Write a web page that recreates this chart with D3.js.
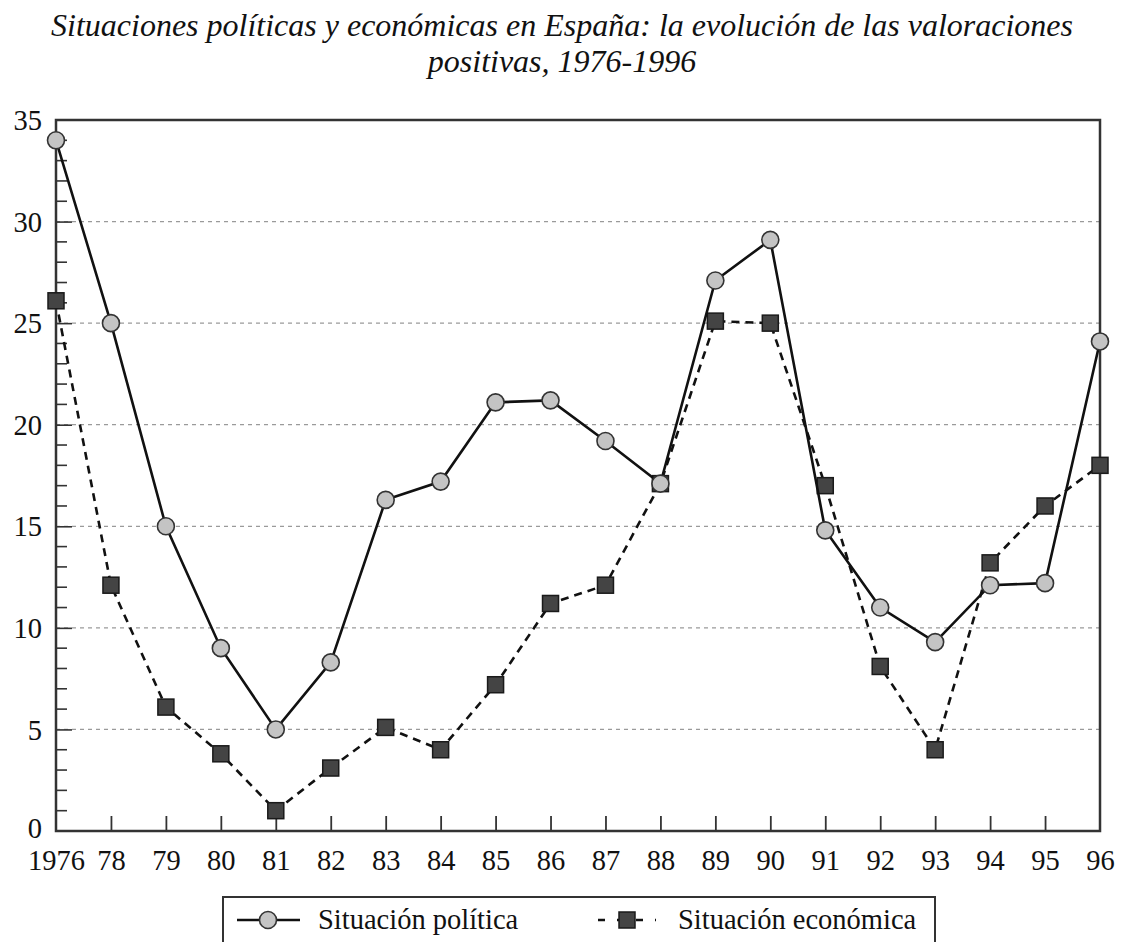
<!DOCTYPE html>
<html>
<head>
    <style>
        body { margin: 0; background: #fff; }
        text { font-family: "Liberation Serif", "DejaVu Serif", serif; fill: #111; }
        .title { font-style: italic; font-size: 32px; text-anchor: middle; }
        .tick text { font-size: 28.5px; }
        .legend text { font-size: 28.5px; }
    </style>
    <script src="https://d3js.org/d3.v7.min.js"></script>
</head>
<body>
    <svg width="1124" height="942"></svg>
    <script>

    var years = ["1976", "78", "79", "80", "81", "82", "83", "84", "85", "86",
                 "87", "88", "89", "90", "91", "92", "93", "94", "95", "96"];
    var politica = [34, 25, 15, 9, 5, 8.3, 16.3, 17.2, 21.1, 21.2,
                    19.2, 17.1, 27.1, 29.1, 14.8, 11, 9.3, 12.1, 12.2, 24.1];
    var economica = [26.1, 12.1, 6.1, 3.8, 1, 3.1, 5.1, 4, 7.2, 11.2,
                     12.1, 17.1, 25.1, 25, 17, 8.1, 4, 13.2, 16, 18];
    var yTicks = [0, 5, 10, 15, 20, 25, 30, 35];
    var seriesNames = ["Situación política", "Situación económica"];

    function lineChart() {
        var svg = d3.select("svg");
        var left = 56, right = 1100, top = 120, bottom = 831;

        var x = d3.scalePoint().domain(years).range([left, right]);
        var y = d3.scaleLinear().domain([0, 35]).range([bottom, top]);

        // title
        svg.append("text").attr("class", "title")
           .attr("x", 562).attr("y", 36)
           .text("Situaciones políticas y económicas en España: la evolución de las valoraciones");
        svg.append("text").attr("class", "title")
           .attr("x", 562).attr("y", 72)
           .text("positivas, 1976-1996");

        // grid
        svg.append("g").selectAll("line")
           .data(yTicks.filter(function(d) { return d > 0 && d < 35; }))
           .enter().append("line")
           .attr("x1", left).attr("x2", right)
           .attr("y1", function(d) { return y(d); })
           .attr("y2", function(d) { return y(d); })
           .attr("stroke", "#9a9a9a")
           .attr("stroke-width", 1.3)
           .attr("stroke-dasharray", "4,4");

        // minor y ticks
        svg.append("g").selectAll("line")
           .data(d3.range(1, 35).filter(function(d) { return d % 5 != 0; }))
           .enter().append("line")
           .attr("x1", left).attr("x2", left + 11)
           .attr("y1", function(d) { return y(d); })
           .attr("y2", function(d) { return y(d); })
           .attr("stroke", "#333").attr("stroke-width", 1.6);

        var yAxis = svg.append("g")
           .attr("transform", "translate(" + left + ",0)")
           .call(d3.axisRight(y).tickValues(yTicks).tickSize(16).tickFormat(d3.format("d")));
        yAxis.select(".domain").remove();
        yAxis.selectAll(".tick line").attr("stroke", "#333").attr("stroke-width", 1.6)
             .filter(function(d) { return d == 0 || d == 35; }).remove();
        yAxis.selectAll(".tick text")
             .attr("x", -14).attr("text-anchor", "end")
             .attr("dy", function(d) { return d == 0 ? "0.24em" : "0.34em"; });

        var xAxis = svg.append("g")
           .attr("transform", "translate(0," + bottom + ")")
           .call(d3.axisTop(x).tickSize(15));
        xAxis.select(".domain").remove();
        xAxis.selectAll(".tick line").attr("stroke", "#333").attr("stroke-width", 1.8)
             .filter(function(d) { return d == "1976" || d == "96"; }).remove();
        xAxis.selectAll(".tick text").attr("y", 39).attr("dy", 0);

        // frame
        svg.append("rect")
           .attr("x", left).attr("y", top)
           .attr("width", right - left).attr("height", bottom - top)
           .attr("fill", "none").attr("stroke", "#333").attr("stroke-width", 2.5);

        var line = d3.line()
            .x(function(d, i) { return x(years[i]); })
            .y(function(d) { return y(d); });

        // economic series
        svg.append("path").datum(economica)
           .attr("d", line).attr("fill", "none")
           .attr("stroke", "#111").attr("stroke-width", 2.6)
           .attr("stroke-dasharray", "8,6");
        svg.append("g").selectAll("rect")
           .data(economica).enter().append("rect")
           .attr("x", function(d, i) { return x(years[i]) - 8; })
           .attr("y", function(d) { return y(d) - 8; })
           .attr("width", 16).attr("height", 16)
           .attr("fill", "#444").attr("stroke", "#1a1a1a").attr("stroke-width", 1.5);

        // political series
        svg.append("path").datum(politica)
           .attr("d", line).attr("fill", "none")
           .attr("stroke", "#111").attr("stroke-width", 2.6);
        svg.append("g").selectAll("circle")
           .data(politica).enter().append("circle")
           .attr("cx", function(d, i) { return x(years[i]); })
           .attr("cy", function(d) { return y(d); })
           .attr("r", 8.5)
           .attr("fill", "#c4c4c4").attr("stroke", "#333").attr("stroke-width", 1.6);

        // legend
        var lg = svg.append("g").attr("class", "legend");
        lg.append("rect")
          .attr("x", 223).attr("y", 897).attr("width", 712).attr("height", 60)
          .attr("fill", "none").attr("stroke", "#333").attr("stroke-width", 2);
        lg.append("line").attr("x1", 237).attr("x2", 300).attr("y1", 920).attr("y2", 920)
          .attr("stroke", "#111").attr("stroke-width", 2.6);
        lg.append("circle").attr("cx", 268).attr("cy", 920).attr("r", 8.5)
          .attr("fill", "#c4c4c4").attr("stroke", "#333").attr("stroke-width", 1.6);
        lg.append("text").attr("x", 318).attr("y", 929).text(seriesNames[0]);
        lg.append("line").attr("x1", 598).attr("x2", 656).attr("y1", 920).attr("y2", 920)
          .attr("stroke", "#111").attr("stroke-width", 2.6).attr("stroke-dasharray", "7,12");
        lg.append("rect").attr("x", 619).attr("y", 912).attr("width", 16).attr("height", 16)
          .attr("fill", "#444").attr("stroke", "#1a1a1a").attr("stroke-width", 1.5);
        lg.append("text").attr("x", 678).attr("y", 929).text(seriesNames[1]);
    }
    lineChart();
    </script>
</body>
</html>
